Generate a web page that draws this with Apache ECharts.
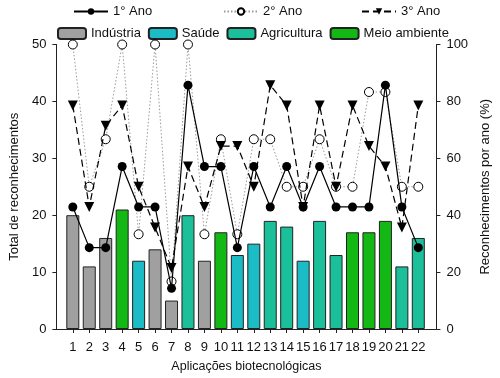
<!DOCTYPE html>
<html>
<head>
<meta charset="utf-8">
<script src="https://cdn.jsdelivr.net/npm/echarts@6/dist/echarts.min.js"></script>
<style>html,body{margin:0;padding:0;background:#fff;}#c{width:500px;height:378px;}</style>
</head>
<body>
<div id="c"></div>
<script>
// ---- data ----
var categories = [1,2,3,4,5,6,7,8,9,10,11,12,13,14,15,16,17,18,19,20,21,22];
var totals = [20,11,16,21,12,14,5,20,12,17,13,15,19,18,12,19,13,17,17,19,11,16];
var sectorOf = ['Indústria','Indústria','Indústria','Meio ambiente','Saúde','Indústria','Indústria','Agricultura','Indústria','Meio ambiente','Saúde','Saúde','Agricultura','Agricultura','Saúde','Agricultura','Agricultura','Meio ambiente','Meio ambiente','Meio ambiente','Agricultura','Agricultura'];
var sectors = ['Indústria','Saúde','Agricultura','Meio ambiente'];
var ano1 = [42.9,28.6,28.6,57.1,42.9,42.9,14.3,85.7,57.1,57.1,28.6,57.1,42.9,57.1,42.9,57.1,42.9,42.9,42.9,85.7,42.9,28.6];
var ano2 = [100,50,66.7,100,33.3,100,16.7,100,33.3,66.7,33.3,66.7,66.7,50,50,66.7,50,50,83.3,83.3,50,50];
var ano3 = [78.6,42.9,71.4,78.6,50,35.7,21.4,57.1,42.9,64.3,64.3,50,85.7,78.6,42.9,78.6,50,78.6,64.3,57.1,35.7,78.6];
var leftTicks = [0,10,20,30,40,50];
var rightTicks = [0,20,40,60,80,100];

var sectorColors = {'Indústria':'#a0a0a0','Saúde':'#1cbcc6','Agricultura':'#1bbf9a','Meio ambiente':'#14b814'};
var FONT = 'Liberation Sans, Arial, sans-serif';

function pairs(vals){ return categories.map(function(c,i){ return [c, vals[i]]; }); }

var series = sectors.map(function(s){
  return {
    name: s, type: 'bar', yAxisIndex: 0, barWidth: 13, barGap: '-100%',
    itemStyle: {color: sectorColors[s], borderColor: '#222', borderWidth: 1},
    data: categories.map(function(c,i){ return sectorOf[i]===s ? [c, totals[i]] : null; }).filter(function(d){return d;}),
    z: 2
  };
});
series.push({
  name: '1° Ano', type: 'line', yAxisIndex: 1, data: pairs(ano1),
  symbol: 'circle', symbolSize: 9,
  lineStyle: {color: '#000', width: 1.2, type: 'solid'},
  itemStyle: {color: '#000'}, z: 5
});
series.push({
  name: '2° Ano', type: 'line', yAxisIndex: 1, data: pairs(ano2),
  symbol: 'circle', symbolSize: 9,
  lineStyle: {color: '#999', width: 1, type: [1.5,2]},
  itemStyle: {color: '#fff', borderColor: '#000', borderWidth: 1}, z: 4
});
series.push({
  name: '3° Ano', type: 'line', yAxisIndex: 1, data: pairs(ano3),
  symbol: 'triangle', symbolRotate: 180, symbolSize: 10,
  lineStyle: {color: '#000', width: 1.2, type: [7,4]},
  itemStyle: {color: '#000'}, z: 5
});

var txt = {fontFamily: FONT, fontSize: 13, color: '#111'};

var option = {
  animation: false,
  backgroundColor: '#fff',
  textStyle: {fontFamily: FONT},
  legend: [
    {data: ['1° Ano'], left: 68, top: 0, itemWidth: 34, itemHeight: 8, textStyle: txt, selectedMode: false},
    {data: ['2° Ano'], left: 218, top: 0, itemWidth: 34, itemHeight: 8, textStyle: txt, selectedMode: false},
    {data: ['3° Ano'], left: 356, top: 0, itemWidth: 34, itemHeight: 8, textStyle: txt, selectedMode: false},
    {data: sectors, left: 52, top: 22, itemWidth: 28, itemHeight: 11, itemGap: 7, textStyle: txt, selectedMode: false}
  ],
  grid: {left: 52.5, right: 47.3, top: 44.5, bottom: 48.5, containLabel: false},
  xAxis: {
    type: 'value', min: 0, max: 23.1,
    name: 'Aplicações biotecnológicas', nameLocation: 'middle', nameGap: 31,
    nameTextStyle: {fontFamily: FONT, fontSize: 12.5, color: '#111'},
    axisLine: {show: true, lineStyle: {color: '#222', width: 1}},
    axisTick: {show: true, length: 4, lineStyle: {color: '#222'}, customValues: categories},
    axisLabel: Object.assign({margin: 12, customValues: categories}, txt),
    splitLine: {show: false}
  },
  yAxis: [
    {
      type: 'value', min: 0, max: 50, interval: 10, position: 'left',
      name: 'Total de reconhecimentos', nameLocation: 'middle', nameGap: 33,
      nameTextStyle: txt,
      axisLine: {show: true, lineStyle: {color: '#222', width: 1}},
      axisTick: {show: true, length: 4, lineStyle: {color: '#222'}},
      axisLabel: Object.assign({margin: 10, customValues: leftTicks}, txt),
      splitLine: {show: false}
    },
    {
      type: 'value', min: 0, max: 100, interval: 20, position: 'right',
      name: 'Reconhecimentos por ano (%)', nameLocation: 'middle', nameGap: 33,
      nameTextStyle: txt,
      axisLine: {show: true, lineStyle: {color: '#222', width: 1}},
      axisTick: {show: true, length: 4, lineStyle: {color: '#222'}},
      axisLabel: Object.assign({margin: 10, customValues: rightTicks}, txt),
      splitLine: {show: false}
    }
  ],
  series: series
};

var chart = echarts.init(document.getElementById('c'), null, {renderer: 'canvas'});
chart.setOption(option);
</script>
</body>
</html>
